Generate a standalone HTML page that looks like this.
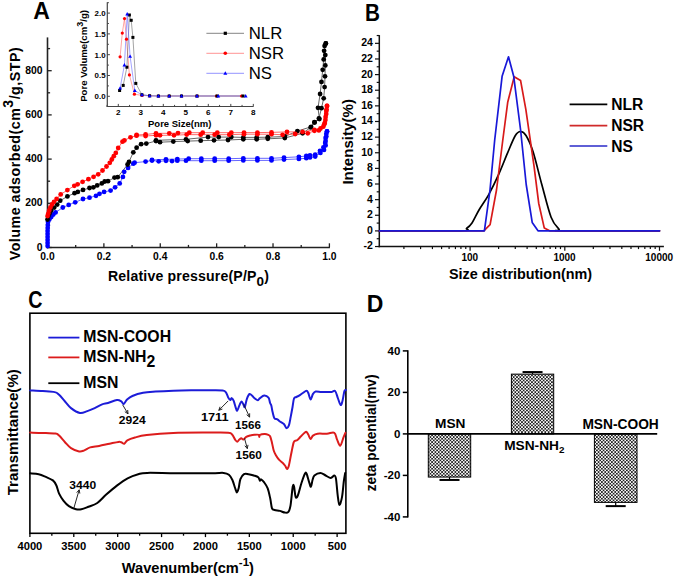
<!DOCTYPE html>
<html><head><meta charset="utf-8"><style>html,body{margin:0;padding:0;background:#fff;width:675px;height:578px;overflow:hidden}svg{display:block;font-family:"Liberation Sans",sans-serif}</style></head><body>
<svg width="675" height="578" viewBox="0 0 675 578" font-family="Liberation Sans, sans-serif">
<rect width="675" height="578" fill="#fff"/>
<text x="33.20" y="18.80" font-size="23" font-weight="bold" text-anchor="start" fill="#000" >A</text>
<line x1="47.50" y1="37.40" x2="47.50" y2="248.30" stroke="#222" stroke-width="1.6" />
<line x1="46.70" y1="247.50" x2="329.90" y2="247.50" stroke="#222" stroke-width="1.6" />
<line x1="47.50" y1="247.50" x2="47.50" y2="243.30" stroke="#222" stroke-width="1.3" />
<text x="47.50" y="259.90" font-size="10.3" font-weight="bold" text-anchor="middle" fill="#000" >0.0</text>
<line x1="75.69" y1="247.50" x2="75.69" y2="244.90" stroke="#222" stroke-width="1.3" />
<line x1="103.88" y1="247.50" x2="103.88" y2="243.30" stroke="#222" stroke-width="1.3" />
<text x="103.88" y="259.90" font-size="10.3" font-weight="bold" text-anchor="middle" fill="#000" >0.2</text>
<line x1="132.07" y1="247.50" x2="132.07" y2="244.90" stroke="#222" stroke-width="1.3" />
<line x1="160.26" y1="247.50" x2="160.26" y2="243.30" stroke="#222" stroke-width="1.3" />
<text x="160.26" y="259.90" font-size="10.3" font-weight="bold" text-anchor="middle" fill="#000" >0.4</text>
<line x1="188.45" y1="247.50" x2="188.45" y2="244.90" stroke="#222" stroke-width="1.3" />
<line x1="216.64" y1="247.50" x2="216.64" y2="243.30" stroke="#222" stroke-width="1.3" />
<text x="216.64" y="259.90" font-size="10.3" font-weight="bold" text-anchor="middle" fill="#000" >0.6</text>
<line x1="244.83" y1="247.50" x2="244.83" y2="244.90" stroke="#222" stroke-width="1.3" />
<line x1="273.02" y1="247.50" x2="273.02" y2="243.30" stroke="#222" stroke-width="1.3" />
<text x="273.02" y="259.90" font-size="10.3" font-weight="bold" text-anchor="middle" fill="#000" >0.8</text>
<line x1="301.21" y1="247.50" x2="301.21" y2="244.90" stroke="#222" stroke-width="1.3" />
<line x1="329.40" y1="247.50" x2="329.40" y2="243.30" stroke="#222" stroke-width="1.3" />
<text x="329.40" y="259.90" font-size="10.3" font-weight="bold" text-anchor="middle" fill="#000" >1.0</text>
<line x1="47.50" y1="247.50" x2="51.70" y2="247.50" stroke="#222" stroke-width="1.3" />
<text x="42.60" y="250.60" font-size="10.4" font-weight="bold" text-anchor="end" fill="#000" >0</text>
<line x1="47.50" y1="225.40" x2="50.10" y2="225.40" stroke="#222" stroke-width="1.3" />
<line x1="47.50" y1="203.30" x2="51.70" y2="203.30" stroke="#222" stroke-width="1.3" />
<text x="42.60" y="206.40" font-size="10.4" font-weight="bold" text-anchor="end" fill="#000" >200</text>
<line x1="47.50" y1="181.20" x2="50.10" y2="181.20" stroke="#222" stroke-width="1.3" />
<line x1="47.50" y1="159.10" x2="51.70" y2="159.10" stroke="#222" stroke-width="1.3" />
<text x="42.60" y="162.20" font-size="10.4" font-weight="bold" text-anchor="end" fill="#000" >400</text>
<line x1="47.50" y1="137.00" x2="50.10" y2="137.00" stroke="#222" stroke-width="1.3" />
<line x1="47.50" y1="114.90" x2="51.70" y2="114.90" stroke="#222" stroke-width="1.3" />
<text x="42.60" y="118.00" font-size="10.4" font-weight="bold" text-anchor="end" fill="#000" >600</text>
<line x1="47.50" y1="92.80" x2="50.10" y2="92.80" stroke="#222" stroke-width="1.3" />
<line x1="47.50" y1="70.70" x2="51.70" y2="70.70" stroke="#222" stroke-width="1.3" />
<text x="42.60" y="73.80" font-size="10.4" font-weight="bold" text-anchor="end" fill="#000" >800</text>
<line x1="47.50" y1="48.60" x2="50.10" y2="48.60" stroke="#222" stroke-width="1.3" />
<text x="108" y="281.3" font-size="14.1" font-weight="bold" textLength="161" lengthAdjust="spacing">Relative pressure(P/P<tspan font-size="13.5" dy="4.3">0</tspan><tspan dy="-4.3">)</tspan></text>
<text transform="translate(20.4,260.3) rotate(-90)" font-size="14.3" font-weight="bold" textLength="213" lengthAdjust="spacing">Volume adsorbed(cm<tspan font-size="14" dy="-7.6">3</tspan><tspan dy="7.6">/g,STP)</tspan></text>
<polyline points="47.60,246.00 47.60,243.00 47.60,240.00 47.60,237.00 47.60,234.00 47.60,231.00 47.70,228.00 47.80,225.00 48.00,222.00 49.30,219.50 51.20,217.00 53.30,214.50 55.60,212.40 62.80,207.50 68.70,204.90 75.20,202.30 83.00,199.00 89.50,197.70 96.00,195.80 99.50,193.80 104.10,191.90 110.60,190.60 115.10,187.30 119.70,183.40 122.90,176.90 124.20,171.80 128.10,167.90 133.30,163.70 134.60,162.70 145.60,161.60 152.00,160.50 158.70,161.30 166.00,160.80 172.00,161.10 177.30,160.70 186.00,160.70 201.30,160.70 214.70,160.70 228.70,160.70 243.30,160.40 257.40,160.40 271.50,160.40 284.00,159.60 298.90,158.90 306.30,158.20 310.00,157.40 315.20,156.60 320.40,152.90 324.00,149.90 325.60,145.40 325.60,141.00 326.30,136.60 327.00,131.40" fill="none" stroke="#5555ff" stroke-width="0.9" stroke-linejoin="round" stroke-linecap="round" />
<polyline points="327.00,131.40 326.30,134.00 325.60,138.00 325.20,143.00 323.40,147.50 320.00,150.80 315.20,154.60 310.00,155.30 306.30,156.00 298.90,156.80 284.00,157.60 271.50,158.30 257.40,158.30 243.30,158.30 228.70,158.70 214.70,158.70 201.30,158.70 188.70,158.70 177.30,159.10 166.00,159.30 152.00,160.00" fill="none" stroke="#5555ff" stroke-width="0.9" stroke-linejoin="round" stroke-linecap="round" />
<polyline points="47.50,219.50 48.20,216.50 49.50,213.50 51.20,210.50 54.20,207.60 57.20,204.60 60.20,200.70 67.40,196.40 74.50,193.20 77.80,191.90 83.00,189.90 89.50,188.00 93.40,187.30 97.20,185.40 101.80,183.40 104.70,181.50 108.00,181.20 114.50,177.60 117.70,177.20 127.60,164.50 129.00,161.80 133.30,152.30 136.60,147.70 141.10,144.20 146.30,143.60 156.00,141.00 160.00,142.20 173.30,141.60 187.70,141.10 200.70,140.70 214.00,140.30 228.00,140.00 243.30,139.30 256.70,139.30 267.80,138.80 284.80,138.00 302.60,133.30 310.70,127.40 314.40,122.20 319.40,119.00 318.00,107.80 320.10,94.00 321.50,81.90 322.70,69.80 323.70,59.40 324.10,50.80 325.80,43.50" fill="none" stroke="#555" stroke-width="0.9" stroke-linejoin="round" stroke-linecap="round" />
<polyline points="325.80,43.50 324.60,45.90 325.30,55.10 325.30,65.40 325.00,76.30 324.60,87.10 323.70,98.30 321.50,108.20 318.90,118.50 314.60,122.50 311.10,126.80 297.40,131.10 284.80,136.50 267.80,137.20 256.70,137.40 243.30,137.40 231.30,137.10 218.70,137.10 208.00,137.10 186.00,139.30 156.00,140.30" fill="none" stroke="#555" stroke-width="0.9" stroke-linejoin="round" stroke-linecap="round" />
<polyline points="47.60,216.00 48.30,213.50 49.20,210.50 50.40,207.50 52.00,204.50 54.00,201.80 56.60,199.00 60.70,194.40 67.40,190.10 74.30,185.80 77.60,184.30 82.60,181.80 88.40,179.20 93.60,176.80 98.20,174.30 102.50,170.50 106.50,166.50 109.80,162.80 111.80,159.50 113.80,156.20 115.80,152.90 118.20,148.00 122.50,141.70 124.40,140.40 130.50,137.30 136.50,135.70 145.60,136.00 156.00,135.30 160.00,135.30 174.00,135.30 186.70,134.60 200.70,134.70 214.70,134.70 229.30,134.70 244.00,134.20 257.40,134.20 271.50,134.20 282.60,134.80 295.20,134.00 307.80,133.30 314.40,130.80 318.90,130.40 323.30,126.70 324.80,123.00 325.60,117.00 326.30,111.00 327.00,106.00" fill="none" stroke="#ff5555" stroke-width="0.9" stroke-linejoin="round" stroke-linecap="round" />
<polyline points="327.00,106.00 326.60,109.50 326.20,114.00 325.40,120.00 324.20,124.50 320.50,128.50 314.50,129.80 302.60,131.90 287.00,131.90 271.50,132.40 257.40,132.60 244.00,132.60 231.30,132.70 217.30,132.70 202.70,132.70 189.30,132.70 178.00,133.10 169.30,133.30 156.00,133.30 145.60,134.50 136.60,135.00" fill="none" stroke="#ff5555" stroke-width="0.9" stroke-linejoin="round" stroke-linecap="round" />
<circle cx="47.60" cy="246.00" r="2.4" fill="#0000ff"/>
<circle cx="47.60" cy="243.00" r="2.4" fill="#0000ff"/>
<circle cx="47.60" cy="240.00" r="2.4" fill="#0000ff"/>
<circle cx="47.60" cy="237.00" r="2.4" fill="#0000ff"/>
<circle cx="47.60" cy="234.00" r="2.4" fill="#0000ff"/>
<circle cx="47.60" cy="231.00" r="2.4" fill="#0000ff"/>
<circle cx="47.70" cy="228.00" r="2.4" fill="#0000ff"/>
<circle cx="47.80" cy="225.00" r="2.4" fill="#0000ff"/>
<circle cx="48.00" cy="222.00" r="2.4" fill="#0000ff"/>
<circle cx="49.30" cy="219.50" r="2.4" fill="#0000ff"/>
<circle cx="51.20" cy="217.00" r="2.4" fill="#0000ff"/>
<circle cx="53.30" cy="214.50" r="2.4" fill="#0000ff"/>
<circle cx="55.60" cy="212.40" r="2.4" fill="#0000ff"/>
<circle cx="62.80" cy="207.50" r="2.4" fill="#0000ff"/>
<circle cx="68.70" cy="204.90" r="2.4" fill="#0000ff"/>
<circle cx="75.20" cy="202.30" r="2.4" fill="#0000ff"/>
<circle cx="83.00" cy="199.00" r="2.4" fill="#0000ff"/>
<circle cx="89.50" cy="197.70" r="2.4" fill="#0000ff"/>
<circle cx="96.00" cy="195.80" r="2.4" fill="#0000ff"/>
<circle cx="99.50" cy="193.80" r="2.4" fill="#0000ff"/>
<circle cx="104.10" cy="191.90" r="2.4" fill="#0000ff"/>
<circle cx="110.60" cy="190.60" r="2.4" fill="#0000ff"/>
<circle cx="115.10" cy="187.30" r="2.4" fill="#0000ff"/>
<circle cx="119.70" cy="183.40" r="2.4" fill="#0000ff"/>
<circle cx="122.90" cy="176.90" r="2.4" fill="#0000ff"/>
<circle cx="124.20" cy="171.80" r="2.4" fill="#0000ff"/>
<circle cx="128.10" cy="167.90" r="2.4" fill="#0000ff"/>
<circle cx="133.30" cy="163.70" r="2.4" fill="#0000ff"/>
<circle cx="134.60" cy="162.70" r="2.4" fill="#0000ff"/>
<circle cx="145.60" cy="161.60" r="2.4" fill="#0000ff"/>
<circle cx="152.00" cy="160.50" r="2.4" fill="#0000ff"/>
<circle cx="158.70" cy="161.30" r="2.4" fill="#0000ff"/>
<circle cx="166.00" cy="160.80" r="2.4" fill="#0000ff"/>
<circle cx="172.00" cy="161.10" r="2.4" fill="#0000ff"/>
<circle cx="177.30" cy="160.70" r="2.4" fill="#0000ff"/>
<circle cx="186.00" cy="160.70" r="2.4" fill="#0000ff"/>
<circle cx="201.30" cy="160.70" r="2.4" fill="#0000ff"/>
<circle cx="214.70" cy="160.70" r="2.4" fill="#0000ff"/>
<circle cx="228.70" cy="160.70" r="2.4" fill="#0000ff"/>
<circle cx="243.30" cy="160.40" r="2.4" fill="#0000ff"/>
<circle cx="257.40" cy="160.40" r="2.4" fill="#0000ff"/>
<circle cx="271.50" cy="160.40" r="2.4" fill="#0000ff"/>
<circle cx="284.00" cy="159.60" r="2.4" fill="#0000ff"/>
<circle cx="298.90" cy="158.90" r="2.4" fill="#0000ff"/>
<circle cx="306.30" cy="158.20" r="2.4" fill="#0000ff"/>
<circle cx="310.00" cy="157.40" r="2.4" fill="#0000ff"/>
<circle cx="315.20" cy="156.60" r="2.4" fill="#0000ff"/>
<circle cx="320.40" cy="152.90" r="2.4" fill="#0000ff"/>
<circle cx="324.00" cy="149.90" r="2.4" fill="#0000ff"/>
<circle cx="325.60" cy="145.40" r="2.4" fill="#0000ff"/>
<circle cx="325.60" cy="141.00" r="2.4" fill="#0000ff"/>
<circle cx="326.30" cy="136.60" r="2.4" fill="#0000ff"/>
<circle cx="327.00" cy="131.40" r="2.4" fill="#0000ff"/>
<circle cx="327.00" cy="131.40" r="2.4" fill="#0000ff"/>
<circle cx="326.30" cy="134.00" r="2.4" fill="#0000ff"/>
<circle cx="325.60" cy="138.00" r="2.4" fill="#0000ff"/>
<circle cx="325.20" cy="143.00" r="2.4" fill="#0000ff"/>
<circle cx="323.40" cy="147.50" r="2.4" fill="#0000ff"/>
<circle cx="320.00" cy="150.80" r="2.4" fill="#0000ff"/>
<circle cx="315.20" cy="154.60" r="2.4" fill="#0000ff"/>
<circle cx="310.00" cy="155.30" r="2.4" fill="#0000ff"/>
<circle cx="306.30" cy="156.00" r="2.4" fill="#0000ff"/>
<circle cx="298.90" cy="156.80" r="2.4" fill="#0000ff"/>
<circle cx="284.00" cy="157.60" r="2.4" fill="#0000ff"/>
<circle cx="271.50" cy="158.30" r="2.4" fill="#0000ff"/>
<circle cx="257.40" cy="158.30" r="2.4" fill="#0000ff"/>
<circle cx="243.30" cy="158.30" r="2.4" fill="#0000ff"/>
<circle cx="228.70" cy="158.70" r="2.4" fill="#0000ff"/>
<circle cx="214.70" cy="158.70" r="2.4" fill="#0000ff"/>
<circle cx="201.30" cy="158.70" r="2.4" fill="#0000ff"/>
<circle cx="188.70" cy="158.70" r="2.4" fill="#0000ff"/>
<circle cx="177.30" cy="159.10" r="2.4" fill="#0000ff"/>
<circle cx="166.00" cy="159.30" r="2.4" fill="#0000ff"/>
<circle cx="152.00" cy="160.00" r="2.4" fill="#0000ff"/>
<circle cx="47.50" cy="219.50" r="2.4" fill="#000000"/>
<circle cx="48.20" cy="216.50" r="2.4" fill="#000000"/>
<circle cx="49.50" cy="213.50" r="2.4" fill="#000000"/>
<circle cx="51.20" cy="210.50" r="2.4" fill="#000000"/>
<circle cx="54.20" cy="207.60" r="2.4" fill="#000000"/>
<circle cx="57.20" cy="204.60" r="2.4" fill="#000000"/>
<circle cx="60.20" cy="200.70" r="2.4" fill="#000000"/>
<circle cx="67.40" cy="196.40" r="2.4" fill="#000000"/>
<circle cx="74.50" cy="193.20" r="2.4" fill="#000000"/>
<circle cx="77.80" cy="191.90" r="2.4" fill="#000000"/>
<circle cx="83.00" cy="189.90" r="2.4" fill="#000000"/>
<circle cx="89.50" cy="188.00" r="2.4" fill="#000000"/>
<circle cx="93.40" cy="187.30" r="2.4" fill="#000000"/>
<circle cx="97.20" cy="185.40" r="2.4" fill="#000000"/>
<circle cx="101.80" cy="183.40" r="2.4" fill="#000000"/>
<circle cx="104.70" cy="181.50" r="2.4" fill="#000000"/>
<circle cx="108.00" cy="181.20" r="2.4" fill="#000000"/>
<circle cx="114.50" cy="177.60" r="2.4" fill="#000000"/>
<circle cx="117.70" cy="177.20" r="2.4" fill="#000000"/>
<circle cx="127.60" cy="164.50" r="2.4" fill="#000000"/>
<circle cx="129.00" cy="161.80" r="2.4" fill="#000000"/>
<circle cx="133.30" cy="152.30" r="2.4" fill="#000000"/>
<circle cx="136.60" cy="147.70" r="2.4" fill="#000000"/>
<circle cx="141.10" cy="144.20" r="2.4" fill="#000000"/>
<circle cx="146.30" cy="143.60" r="2.4" fill="#000000"/>
<circle cx="156.00" cy="141.00" r="2.4" fill="#000000"/>
<circle cx="160.00" cy="142.20" r="2.4" fill="#000000"/>
<circle cx="173.30" cy="141.60" r="2.4" fill="#000000"/>
<circle cx="187.70" cy="141.10" r="2.4" fill="#000000"/>
<circle cx="200.70" cy="140.70" r="2.4" fill="#000000"/>
<circle cx="214.00" cy="140.30" r="2.4" fill="#000000"/>
<circle cx="228.00" cy="140.00" r="2.4" fill="#000000"/>
<circle cx="243.30" cy="139.30" r="2.4" fill="#000000"/>
<circle cx="256.70" cy="139.30" r="2.4" fill="#000000"/>
<circle cx="267.80" cy="138.80" r="2.4" fill="#000000"/>
<circle cx="284.80" cy="138.00" r="2.4" fill="#000000"/>
<circle cx="302.60" cy="133.30" r="2.4" fill="#000000"/>
<circle cx="310.70" cy="127.40" r="2.4" fill="#000000"/>
<circle cx="314.40" cy="122.20" r="2.4" fill="#000000"/>
<circle cx="319.40" cy="119.00" r="2.4" fill="#000000"/>
<circle cx="318.00" cy="107.80" r="2.4" fill="#000000"/>
<circle cx="320.10" cy="94.00" r="2.4" fill="#000000"/>
<circle cx="321.50" cy="81.90" r="2.4" fill="#000000"/>
<circle cx="322.70" cy="69.80" r="2.4" fill="#000000"/>
<circle cx="323.70" cy="59.40" r="2.4" fill="#000000"/>
<circle cx="324.10" cy="50.80" r="2.4" fill="#000000"/>
<circle cx="325.80" cy="43.50" r="2.4" fill="#000000"/>
<circle cx="325.80" cy="43.50" r="2.4" fill="#000000"/>
<circle cx="324.60" cy="45.90" r="2.4" fill="#000000"/>
<circle cx="325.30" cy="55.10" r="2.4" fill="#000000"/>
<circle cx="325.30" cy="65.40" r="2.4" fill="#000000"/>
<circle cx="325.00" cy="76.30" r="2.4" fill="#000000"/>
<circle cx="324.60" cy="87.10" r="2.4" fill="#000000"/>
<circle cx="323.70" cy="98.30" r="2.4" fill="#000000"/>
<circle cx="321.50" cy="108.20" r="2.4" fill="#000000"/>
<circle cx="318.90" cy="118.50" r="2.4" fill="#000000"/>
<circle cx="314.60" cy="122.50" r="2.4" fill="#000000"/>
<circle cx="311.10" cy="126.80" r="2.4" fill="#000000"/>
<circle cx="297.40" cy="131.10" r="2.4" fill="#000000"/>
<circle cx="284.80" cy="136.50" r="2.4" fill="#000000"/>
<circle cx="267.80" cy="137.20" r="2.4" fill="#000000"/>
<circle cx="256.70" cy="137.40" r="2.4" fill="#000000"/>
<circle cx="243.30" cy="137.40" r="2.4" fill="#000000"/>
<circle cx="231.30" cy="137.10" r="2.4" fill="#000000"/>
<circle cx="218.70" cy="137.10" r="2.4" fill="#000000"/>
<circle cx="208.00" cy="137.10" r="2.4" fill="#000000"/>
<circle cx="186.00" cy="139.30" r="2.4" fill="#000000"/>
<circle cx="156.00" cy="140.30" r="2.4" fill="#000000"/>
<circle cx="47.60" cy="216.00" r="2.4" fill="#ff0000"/>
<circle cx="48.30" cy="213.50" r="2.4" fill="#ff0000"/>
<circle cx="49.20" cy="210.50" r="2.4" fill="#ff0000"/>
<circle cx="50.40" cy="207.50" r="2.4" fill="#ff0000"/>
<circle cx="52.00" cy="204.50" r="2.4" fill="#ff0000"/>
<circle cx="54.00" cy="201.80" r="2.4" fill="#ff0000"/>
<circle cx="56.60" cy="199.00" r="2.4" fill="#ff0000"/>
<circle cx="60.70" cy="194.40" r="2.4" fill="#ff0000"/>
<circle cx="67.40" cy="190.10" r="2.4" fill="#ff0000"/>
<circle cx="74.30" cy="185.80" r="2.4" fill="#ff0000"/>
<circle cx="77.60" cy="184.30" r="2.4" fill="#ff0000"/>
<circle cx="82.60" cy="181.80" r="2.4" fill="#ff0000"/>
<circle cx="88.40" cy="179.20" r="2.4" fill="#ff0000"/>
<circle cx="93.60" cy="176.80" r="2.4" fill="#ff0000"/>
<circle cx="98.20" cy="174.30" r="2.4" fill="#ff0000"/>
<circle cx="102.50" cy="170.50" r="2.4" fill="#ff0000"/>
<circle cx="106.50" cy="166.50" r="2.4" fill="#ff0000"/>
<circle cx="109.80" cy="162.80" r="2.4" fill="#ff0000"/>
<circle cx="111.80" cy="159.50" r="2.4" fill="#ff0000"/>
<circle cx="113.80" cy="156.20" r="2.4" fill="#ff0000"/>
<circle cx="115.80" cy="152.90" r="2.4" fill="#ff0000"/>
<circle cx="118.20" cy="148.00" r="2.4" fill="#ff0000"/>
<circle cx="122.50" cy="141.70" r="2.4" fill="#ff0000"/>
<circle cx="124.40" cy="140.40" r="2.4" fill="#ff0000"/>
<circle cx="130.50" cy="137.30" r="2.4" fill="#ff0000"/>
<circle cx="136.50" cy="135.70" r="2.4" fill="#ff0000"/>
<circle cx="145.60" cy="136.00" r="2.4" fill="#ff0000"/>
<circle cx="156.00" cy="135.30" r="2.4" fill="#ff0000"/>
<circle cx="160.00" cy="135.30" r="2.4" fill="#ff0000"/>
<circle cx="174.00" cy="135.30" r="2.4" fill="#ff0000"/>
<circle cx="186.70" cy="134.60" r="2.4" fill="#ff0000"/>
<circle cx="200.70" cy="134.70" r="2.4" fill="#ff0000"/>
<circle cx="214.70" cy="134.70" r="2.4" fill="#ff0000"/>
<circle cx="229.30" cy="134.70" r="2.4" fill="#ff0000"/>
<circle cx="244.00" cy="134.20" r="2.4" fill="#ff0000"/>
<circle cx="257.40" cy="134.20" r="2.4" fill="#ff0000"/>
<circle cx="271.50" cy="134.20" r="2.4" fill="#ff0000"/>
<circle cx="282.60" cy="134.80" r="2.4" fill="#ff0000"/>
<circle cx="295.20" cy="134.00" r="2.4" fill="#ff0000"/>
<circle cx="307.80" cy="133.30" r="2.4" fill="#ff0000"/>
<circle cx="314.40" cy="130.80" r="2.4" fill="#ff0000"/>
<circle cx="318.90" cy="130.40" r="2.4" fill="#ff0000"/>
<circle cx="323.30" cy="126.70" r="2.4" fill="#ff0000"/>
<circle cx="324.80" cy="123.00" r="2.4" fill="#ff0000"/>
<circle cx="325.60" cy="117.00" r="2.4" fill="#ff0000"/>
<circle cx="326.30" cy="111.00" r="2.4" fill="#ff0000"/>
<circle cx="327.00" cy="106.00" r="2.4" fill="#ff0000"/>
<circle cx="327.00" cy="106.00" r="2.4" fill="#ff0000"/>
<circle cx="326.60" cy="109.50" r="2.4" fill="#ff0000"/>
<circle cx="326.20" cy="114.00" r="2.4" fill="#ff0000"/>
<circle cx="325.40" cy="120.00" r="2.4" fill="#ff0000"/>
<circle cx="324.20" cy="124.50" r="2.4" fill="#ff0000"/>
<circle cx="320.50" cy="128.50" r="2.4" fill="#ff0000"/>
<circle cx="314.50" cy="129.80" r="2.4" fill="#ff0000"/>
<circle cx="302.60" cy="131.90" r="2.4" fill="#ff0000"/>
<circle cx="287.00" cy="131.90" r="2.4" fill="#ff0000"/>
<circle cx="271.50" cy="132.40" r="2.4" fill="#ff0000"/>
<circle cx="257.40" cy="132.60" r="2.4" fill="#ff0000"/>
<circle cx="244.00" cy="132.60" r="2.4" fill="#ff0000"/>
<circle cx="231.30" cy="132.70" r="2.4" fill="#ff0000"/>
<circle cx="217.30" cy="132.70" r="2.4" fill="#ff0000"/>
<circle cx="202.70" cy="132.70" r="2.4" fill="#ff0000"/>
<circle cx="189.30" cy="132.70" r="2.4" fill="#ff0000"/>
<circle cx="178.00" cy="133.10" r="2.4" fill="#ff0000"/>
<circle cx="169.30" cy="133.30" r="2.4" fill="#ff0000"/>
<circle cx="156.00" cy="133.30" r="2.4" fill="#ff0000"/>
<circle cx="145.60" cy="134.50" r="2.4" fill="#ff0000"/>
<circle cx="136.60" cy="135.00" r="2.4" fill="#ff0000"/>
<line x1="107.30" y1="2.20" x2="107.30" y2="107.10" stroke="#444" stroke-width="1.2" />
<line x1="106.70" y1="106.50" x2="253.50" y2="106.50" stroke="#444" stroke-width="1.2" />
<line x1="107.05" y1="106.50" x2="107.05" y2="104.90" stroke="#444" stroke-width="1.0" />
<line x1="118.30" y1="106.50" x2="118.30" y2="103.90" stroke="#444" stroke-width="1.0" />
<text x="118.30" y="115.00" font-size="8.1" font-weight="bold" text-anchor="middle" fill="#000" >2</text>
<line x1="129.55" y1="106.50" x2="129.55" y2="104.90" stroke="#444" stroke-width="1.0" />
<line x1="140.80" y1="106.50" x2="140.80" y2="103.90" stroke="#444" stroke-width="1.0" />
<text x="140.80" y="115.00" font-size="8.1" font-weight="bold" text-anchor="middle" fill="#000" >3</text>
<line x1="152.05" y1="106.50" x2="152.05" y2="104.90" stroke="#444" stroke-width="1.0" />
<line x1="163.30" y1="106.50" x2="163.30" y2="103.90" stroke="#444" stroke-width="1.0" />
<text x="163.30" y="115.00" font-size="8.1" font-weight="bold" text-anchor="middle" fill="#000" >4</text>
<line x1="174.55" y1="106.50" x2="174.55" y2="104.90" stroke="#444" stroke-width="1.0" />
<line x1="185.80" y1="106.50" x2="185.80" y2="103.90" stroke="#444" stroke-width="1.0" />
<text x="185.80" y="115.00" font-size="8.1" font-weight="bold" text-anchor="middle" fill="#000" >5</text>
<line x1="197.05" y1="106.50" x2="197.05" y2="104.90" stroke="#444" stroke-width="1.0" />
<line x1="208.30" y1="106.50" x2="208.30" y2="103.90" stroke="#444" stroke-width="1.0" />
<text x="208.30" y="115.00" font-size="8.1" font-weight="bold" text-anchor="middle" fill="#000" >6</text>
<line x1="219.55" y1="106.50" x2="219.55" y2="104.90" stroke="#444" stroke-width="1.0" />
<line x1="230.80" y1="106.50" x2="230.80" y2="103.90" stroke="#444" stroke-width="1.0" />
<text x="230.80" y="115.00" font-size="8.1" font-weight="bold" text-anchor="middle" fill="#000" >7</text>
<line x1="242.05" y1="106.50" x2="242.05" y2="104.90" stroke="#444" stroke-width="1.0" />
<line x1="253.30" y1="106.50" x2="253.30" y2="103.90" stroke="#444" stroke-width="1.0" />
<text x="253.30" y="115.00" font-size="8.1" font-weight="bold" text-anchor="middle" fill="#000" >8</text>
<line x1="107.30" y1="96.30" x2="109.90" y2="96.30" stroke="#444" stroke-width="1.0" />
<text x="105.60" y="99.10" font-size="7.9" font-weight="bold" text-anchor="end" fill="#000" >0.0</text>
<line x1="107.30" y1="85.90" x2="108.90" y2="85.90" stroke="#444" stroke-width="1.0" />
<line x1="107.30" y1="75.50" x2="109.90" y2="75.50" stroke="#444" stroke-width="1.0" />
<text x="105.60" y="78.30" font-size="7.9" font-weight="bold" text-anchor="end" fill="#000" >0.5</text>
<line x1="107.30" y1="65.10" x2="108.90" y2="65.10" stroke="#444" stroke-width="1.0" />
<line x1="107.30" y1="54.70" x2="109.90" y2="54.70" stroke="#444" stroke-width="1.0" />
<text x="105.60" y="57.50" font-size="7.9" font-weight="bold" text-anchor="end" fill="#000" >1.0</text>
<line x1="107.30" y1="44.30" x2="108.90" y2="44.30" stroke="#444" stroke-width="1.0" />
<line x1="107.30" y1="33.90" x2="109.90" y2="33.90" stroke="#444" stroke-width="1.0" />
<text x="105.60" y="36.70" font-size="7.9" font-weight="bold" text-anchor="end" fill="#000" >1.5</text>
<line x1="107.30" y1="23.50" x2="108.90" y2="23.50" stroke="#444" stroke-width="1.0" />
<line x1="107.30" y1="13.10" x2="109.90" y2="13.10" stroke="#444" stroke-width="1.0" />
<text x="105.60" y="15.90" font-size="7.9" font-weight="bold" text-anchor="end" fill="#000" >2.0</text>
<line x1="107.30" y1="2.70" x2="108.90" y2="2.70" stroke="#444" stroke-width="1.0" />
<text x="148.00" y="127.00" font-size="9.5" font-weight="bold" text-anchor="start" fill="#000" >Pore Size(nm)</text>
<text transform="translate(87.4,101.8) rotate(-90)" font-size="9.6" font-weight="bold">Pore Volume(cm<tspan font-size="9" dy="-4.6">3</tspan><tspan dy="4.6">/g)</tspan></text>
<polyline points="120.10,56.80 122.30,33.10 124.50,18.60 126.50,39.20 129.40,74.90 134.40,94.20 142.00,95.40 149.60,95.80 158.40,96.00 169.20,96.00 181.50,96.00 197.00,96.00 216.50,96.00 241.50,96.00" fill="none" stroke="#ff6666" stroke-width="0.6" stroke-linejoin="round" stroke-linecap="round" />
<polyline points="119.60,90.50 123.20,85.40 126.90,67.20 129.40,15.00 131.20,20.30 132.90,37.40 135.80,83.40 141.90,94.70 149.60,95.80 158.40,96.00 169.20,96.00 181.50,96.00 197.00,96.00 217.00,96.00 243.00,96.00" fill="none" stroke="#666" stroke-width="0.6" stroke-linejoin="round" stroke-linecap="round" />
<polyline points="120.10,88.20 124.40,65.10 127.20,14.00 130.10,56.40 134.80,90.60 142.00,94.80 149.60,95.80 158.40,96.00 169.20,96.00 181.50,96.00 197.00,96.00 218.30,96.00 245.70,96.00" fill="none" stroke="#6666ff" stroke-width="0.6" stroke-linejoin="round" stroke-linecap="round" />
<circle cx="120.10" cy="56.80" r="1.6" fill="#ff0000"/>
<circle cx="122.30" cy="33.10" r="1.6" fill="#ff0000"/>
<circle cx="124.50" cy="18.60" r="1.6" fill="#ff0000"/>
<circle cx="126.50" cy="39.20" r="1.6" fill="#ff0000"/>
<circle cx="129.40" cy="74.90" r="1.6" fill="#ff0000"/>
<circle cx="134.40" cy="94.20" r="1.6" fill="#ff0000"/>
<circle cx="142.00" cy="95.40" r="1.6" fill="#ff0000"/>
<circle cx="149.60" cy="95.80" r="1.6" fill="#ff0000"/>
<circle cx="158.40" cy="96.00" r="1.6" fill="#ff0000"/>
<circle cx="169.20" cy="96.00" r="1.6" fill="#ff0000"/>
<circle cx="181.50" cy="96.00" r="1.6" fill="#ff0000"/>
<circle cx="197.00" cy="96.00" r="1.6" fill="#ff0000"/>
<circle cx="216.50" cy="96.00" r="1.6" fill="#ff0000"/>
<circle cx="241.50" cy="96.00" r="1.6" fill="#ff0000"/>
<rect x="118.10" y="89.00" width="3" height="3" fill="#000"/>
<rect x="121.70" y="83.90" width="3" height="3" fill="#000"/>
<rect x="125.40" y="65.70" width="3" height="3" fill="#000"/>
<rect x="127.90" y="13.50" width="3" height="3" fill="#000"/>
<rect x="129.70" y="18.80" width="3" height="3" fill="#000"/>
<rect x="131.40" y="35.90" width="3" height="3" fill="#000"/>
<rect x="134.30" y="81.90" width="3" height="3" fill="#000"/>
<rect x="140.40" y="93.20" width="3" height="3" fill="#000"/>
<rect x="148.10" y="94.30" width="3" height="3" fill="#000"/>
<rect x="156.90" y="94.50" width="3" height="3" fill="#000"/>
<rect x="167.70" y="94.50" width="3" height="3" fill="#000"/>
<rect x="180.00" y="94.50" width="3" height="3" fill="#000"/>
<rect x="195.50" y="94.50" width="3" height="3" fill="#000"/>
<rect x="215.50" y="94.50" width="3" height="3" fill="#000"/>
<rect x="241.50" y="94.50" width="3" height="3" fill="#000"/>
<path d="M120.10,86.20 L122.00,89.60 L118.20,89.60Z" fill="#0000ff"/>
<path d="M124.40,63.10 L126.30,66.50 L122.50,66.50Z" fill="#0000ff"/>
<path d="M127.20,12.00 L129.10,15.40 L125.30,15.40Z" fill="#0000ff"/>
<path d="M130.10,54.40 L132.00,57.80 L128.20,57.80Z" fill="#0000ff"/>
<path d="M134.80,88.60 L136.70,92.00 L132.90,92.00Z" fill="#0000ff"/>
<path d="M142.00,92.80 L143.90,96.20 L140.10,96.20Z" fill="#0000ff"/>
<path d="M149.60,93.80 L151.50,97.20 L147.70,97.20Z" fill="#0000ff"/>
<path d="M158.40,94.00 L160.30,97.40 L156.50,97.40Z" fill="#0000ff"/>
<path d="M169.20,94.00 L171.10,97.40 L167.30,97.40Z" fill="#0000ff"/>
<path d="M181.50,94.00 L183.40,97.40 L179.60,97.40Z" fill="#0000ff"/>
<path d="M197.00,94.00 L198.90,97.40 L195.10,97.40Z" fill="#0000ff"/>
<path d="M218.30,94.00 L220.20,97.40 L216.40,97.40Z" fill="#0000ff"/>
<path d="M245.70,94.00 L247.60,97.40 L243.80,97.40Z" fill="#0000ff"/>
<line x1="206.40" y1="33.30" x2="244.00" y2="33.30" stroke="#666" stroke-width="0.8" />
<rect x="223.70" y="31.70" width="3.2" height="3.2" fill="#000"/>
<text transform="translate(248.70,38.90) scale(1.075,1.0)" font-size="15.6" font-weight="normal" text-anchor="start" fill="#000" >NLR</text>
<line x1="206.40" y1="53.30" x2="244.00" y2="53.30" stroke="#ff7777" stroke-width="0.8" />
<circle cx="225.3" cy="53.30" r="1.8" fill="#ff0000"/>
<text transform="translate(248.70,58.90) scale(1.075,1.0)" font-size="15.6" font-weight="normal" text-anchor="start" fill="#000" >NSR</text>
<line x1="206.40" y1="73.30" x2="244.00" y2="73.30" stroke="#7777ff" stroke-width="0.8" />
<path d="M225.3,71.20 L227.3,74.70 L223.3,74.70Z" fill="#0000ff"/>
<text transform="translate(248.70,78.90) scale(1.075,1.0)" font-size="15.6" font-weight="normal" text-anchor="start" fill="#000" >NS</text>
<text transform="translate(365.00,21.00) scale(0.9,1.0)" font-size="23" font-weight="bold" text-anchor="start" fill="#000" >B</text>
<line x1="379.30" y1="35.10" x2="379.30" y2="247.25" stroke="#111" stroke-width="1.5" />
<line x1="378.55" y1="246.50" x2="663.90" y2="246.50" stroke="#111" stroke-width="1.5" />
<line x1="379.30" y1="246.53" x2="375.00" y2="246.53" stroke="#111" stroke-width="1.2" />
<text x="372.90" y="249.43" font-size="10.5" font-weight="bold" text-anchor="end" fill="#000" >-2</text>
<line x1="379.30" y1="238.72" x2="376.70" y2="238.72" stroke="#111" stroke-width="1.2" />
<line x1="379.30" y1="230.90" x2="375.00" y2="230.90" stroke="#111" stroke-width="1.2" />
<text x="372.90" y="233.80" font-size="10.5" font-weight="bold" text-anchor="end" fill="#000" >0</text>
<line x1="379.30" y1="223.09" x2="376.70" y2="223.09" stroke="#111" stroke-width="1.2" />
<line x1="379.30" y1="215.27" x2="375.00" y2="215.27" stroke="#111" stroke-width="1.2" />
<text x="372.90" y="218.17" font-size="10.5" font-weight="bold" text-anchor="end" fill="#000" >2</text>
<line x1="379.30" y1="207.46" x2="376.70" y2="207.46" stroke="#111" stroke-width="1.2" />
<line x1="379.30" y1="199.64" x2="375.00" y2="199.64" stroke="#111" stroke-width="1.2" />
<text x="372.90" y="202.54" font-size="10.5" font-weight="bold" text-anchor="end" fill="#000" >4</text>
<line x1="379.30" y1="191.82" x2="376.70" y2="191.82" stroke="#111" stroke-width="1.2" />
<line x1="379.30" y1="184.01" x2="375.00" y2="184.01" stroke="#111" stroke-width="1.2" />
<text x="372.90" y="186.91" font-size="10.5" font-weight="bold" text-anchor="end" fill="#000" >6</text>
<line x1="379.30" y1="176.19" x2="376.70" y2="176.19" stroke="#111" stroke-width="1.2" />
<line x1="379.30" y1="168.38" x2="375.00" y2="168.38" stroke="#111" stroke-width="1.2" />
<text x="372.90" y="171.28" font-size="10.5" font-weight="bold" text-anchor="end" fill="#000" >8</text>
<line x1="379.30" y1="160.56" x2="376.70" y2="160.56" stroke="#111" stroke-width="1.2" />
<line x1="379.30" y1="152.75" x2="375.00" y2="152.75" stroke="#111" stroke-width="1.2" />
<text x="372.90" y="155.65" font-size="10.5" font-weight="bold" text-anchor="end" fill="#000" >10</text>
<line x1="379.30" y1="144.94" x2="376.70" y2="144.94" stroke="#111" stroke-width="1.2" />
<line x1="379.30" y1="137.12" x2="375.00" y2="137.12" stroke="#111" stroke-width="1.2" />
<text x="372.90" y="140.02" font-size="10.5" font-weight="bold" text-anchor="end" fill="#000" >12</text>
<line x1="379.30" y1="129.31" x2="376.70" y2="129.31" stroke="#111" stroke-width="1.2" />
<line x1="379.30" y1="121.49" x2="375.00" y2="121.49" stroke="#111" stroke-width="1.2" />
<text x="372.90" y="124.39" font-size="10.5" font-weight="bold" text-anchor="end" fill="#000" >14</text>
<line x1="379.30" y1="113.67" x2="376.70" y2="113.67" stroke="#111" stroke-width="1.2" />
<line x1="379.30" y1="105.86" x2="375.00" y2="105.86" stroke="#111" stroke-width="1.2" />
<text x="372.90" y="108.76" font-size="10.5" font-weight="bold" text-anchor="end" fill="#000" >16</text>
<line x1="379.30" y1="98.04" x2="376.70" y2="98.04" stroke="#111" stroke-width="1.2" />
<line x1="379.30" y1="90.23" x2="375.00" y2="90.23" stroke="#111" stroke-width="1.2" />
<text x="372.90" y="93.13" font-size="10.5" font-weight="bold" text-anchor="end" fill="#000" >18</text>
<line x1="379.30" y1="82.41" x2="376.70" y2="82.41" stroke="#111" stroke-width="1.2" />
<line x1="379.30" y1="74.60" x2="375.00" y2="74.60" stroke="#111" stroke-width="1.2" />
<text x="372.90" y="77.50" font-size="10.5" font-weight="bold" text-anchor="end" fill="#000" >20</text>
<line x1="379.30" y1="66.78" x2="376.70" y2="66.78" stroke="#111" stroke-width="1.2" />
<line x1="379.30" y1="58.97" x2="375.00" y2="58.97" stroke="#111" stroke-width="1.2" />
<text x="372.90" y="61.87" font-size="10.5" font-weight="bold" text-anchor="end" fill="#000" >22</text>
<line x1="379.30" y1="51.16" x2="376.70" y2="51.16" stroke="#111" stroke-width="1.2" />
<line x1="379.30" y1="43.34" x2="375.00" y2="43.34" stroke="#111" stroke-width="1.2" />
<text x="372.90" y="46.24" font-size="10.5" font-weight="bold" text-anchor="end" fill="#000" >24</text>
<line x1="379.30" y1="35.53" x2="376.70" y2="35.53" stroke="#111" stroke-width="1.2" />
<line x1="403.91" y1="246.50" x2="403.91" y2="249.10" stroke="#111" stroke-width="1.2" />
<line x1="420.58" y1="246.50" x2="420.58" y2="249.10" stroke="#111" stroke-width="1.2" />
<line x1="432.42" y1="246.50" x2="432.42" y2="249.10" stroke="#111" stroke-width="1.2" />
<line x1="441.59" y1="246.50" x2="441.59" y2="249.10" stroke="#111" stroke-width="1.2" />
<line x1="449.09" y1="246.50" x2="449.09" y2="249.10" stroke="#111" stroke-width="1.2" />
<line x1="455.43" y1="246.50" x2="455.43" y2="249.10" stroke="#111" stroke-width="1.2" />
<line x1="460.92" y1="246.50" x2="460.92" y2="249.10" stroke="#111" stroke-width="1.2" />
<line x1="465.77" y1="246.50" x2="465.77" y2="249.10" stroke="#111" stroke-width="1.2" />
<line x1="470.10" y1="246.50" x2="470.10" y2="250.80" stroke="#111" stroke-width="1.2" />
<line x1="498.61" y1="246.50" x2="498.61" y2="249.10" stroke="#111" stroke-width="1.2" />
<line x1="515.28" y1="246.50" x2="515.28" y2="249.10" stroke="#111" stroke-width="1.2" />
<line x1="527.12" y1="246.50" x2="527.12" y2="249.10" stroke="#111" stroke-width="1.2" />
<line x1="536.29" y1="246.50" x2="536.29" y2="249.10" stroke="#111" stroke-width="1.2" />
<line x1="543.79" y1="246.50" x2="543.79" y2="249.10" stroke="#111" stroke-width="1.2" />
<line x1="550.13" y1="246.50" x2="550.13" y2="249.10" stroke="#111" stroke-width="1.2" />
<line x1="555.62" y1="246.50" x2="555.62" y2="249.10" stroke="#111" stroke-width="1.2" />
<line x1="560.47" y1="246.50" x2="560.47" y2="249.10" stroke="#111" stroke-width="1.2" />
<line x1="564.80" y1="246.50" x2="564.80" y2="250.80" stroke="#111" stroke-width="1.2" />
<line x1="593.31" y1="246.50" x2="593.31" y2="249.10" stroke="#111" stroke-width="1.2" />
<line x1="609.98" y1="246.50" x2="609.98" y2="249.10" stroke="#111" stroke-width="1.2" />
<line x1="621.82" y1="246.50" x2="621.82" y2="249.10" stroke="#111" stroke-width="1.2" />
<line x1="630.99" y1="246.50" x2="630.99" y2="249.10" stroke="#111" stroke-width="1.2" />
<line x1="638.49" y1="246.50" x2="638.49" y2="249.10" stroke="#111" stroke-width="1.2" />
<line x1="644.83" y1="246.50" x2="644.83" y2="249.10" stroke="#111" stroke-width="1.2" />
<line x1="650.32" y1="246.50" x2="650.32" y2="249.10" stroke="#111" stroke-width="1.2" />
<line x1="655.17" y1="246.50" x2="655.17" y2="249.10" stroke="#111" stroke-width="1.2" />
<line x1="659.50" y1="246.50" x2="659.50" y2="250.80" stroke="#111" stroke-width="1.2" />
<text x="469.80" y="260.90" font-size="10.0" font-weight="bold" text-anchor="middle" fill="#000" >100</text>
<text x="564.50" y="260.90" font-size="10.0" font-weight="bold" text-anchor="middle" fill="#000" >1000</text>
<text x="659.20" y="260.90" font-size="10.0" font-weight="bold" text-anchor="middle" fill="#000" >10000</text>
<text x="449.00" y="279.40" font-size="14.4" font-weight="bold" text-anchor="start" fill="#000" >Size distribution(nm)</text>
<text transform="translate(353.4,184.6) rotate(-90)" font-size="15.1" font-weight="bold">Intensity(%)</text>
<path d="M379.30,230.80 C392.75,230.80 445.43,231.22 460.00,230.80 C474.57,230.38 464.70,229.60 466.70,228.30 C468.70,227.00 469.95,226.05 472.00,223.00 C474.05,219.95 476.23,214.70 479.00,210.00 C481.77,205.30 485.42,200.52 488.60,194.80 C491.78,189.08 494.93,182.68 498.10,175.70 C501.27,168.72 504.75,159.57 507.60,152.90 C510.45,146.23 513.03,139.27 515.20,135.70 C517.37,132.13 518.80,131.53 520.60,131.50 C522.40,131.47 523.93,132.17 526.00,135.50 C528.07,138.83 530.37,143.33 533.00,151.50 C535.63,159.67 538.78,173.55 541.80,184.50 C544.82,195.45 548.25,209.78 551.10,217.20 C553.95,224.62 556.82,226.73 558.90,229.00 C560.98,231.27 546.83,230.50 563.60,230.80 C580.37,231.10 643.52,230.80 659.50,230.80" fill="none" stroke="#000000" stroke-width="1.7" stroke-linejoin="round" stroke-linecap="round" />
<polyline points="379.30,230.80 483.80,230.80 490.10,224.70 496.50,190.00 502.80,140.00 507.70,102.30 514.20,76.70 520.60,80.60 525.80,109.20 534.00,165.80 538.70,203.20 544.30,228.10 549.60,230.80 659.50,230.80" fill="none" stroke="#d81a1a" stroke-width="1.7" stroke-linejoin="round" stroke-linecap="round" />
<polyline points="379.30,230.80 484.40,230.80 490.00,190.00 494.70,140.00 502.10,76.30 508.50,56.80 513.70,76.30 520.60,130.00 526.20,184.50 532.20,222.40 538.00,230.80 659.50,230.80" fill="none" stroke="#1818d8" stroke-width="1.7" stroke-linejoin="round" stroke-linecap="round" />
<line x1="569.60" y1="104.40" x2="607.30" y2="104.40" stroke="#000000" stroke-width="1.6" />
<text x="611.20" y="110.10" font-size="15.6" font-weight="bold" text-anchor="start" fill="#000" >NLR</text>
<line x1="569.60" y1="125.60" x2="607.30" y2="125.60" stroke="#d02a2a" stroke-width="1.6" />
<text x="611.20" y="131.30" font-size="15.6" font-weight="bold" text-anchor="start" fill="#000" >NSR</text>
<line x1="569.60" y1="146.00" x2="607.30" y2="146.00" stroke="#2a2ac8" stroke-width="1.6" />
<text x="611.20" y="151.70" font-size="15.6" font-weight="bold" text-anchor="start" fill="#000" >NS</text>
<text transform="translate(28.30,307.60) scale(0.8,1.0)" font-size="24.6" font-weight="bold" text-anchor="start" fill="#000" >C</text>
<rect x="29.9" y="313.2" width="316.0" height="220.09999999999997" fill="none" stroke="#000" stroke-width="1.6"/>
<line x1="29.90" y1="533.30" x2="29.90" y2="537.10" stroke="#000" stroke-width="1.3" />
<text x="29.90" y="550.30" font-size="11.2" font-weight="bold" text-anchor="middle" fill="#000" >4000</text>
<line x1="51.84" y1="533.30" x2="51.84" y2="535.70" stroke="#000" stroke-width="1.3" />
<line x1="73.79" y1="533.30" x2="73.79" y2="537.10" stroke="#000" stroke-width="1.3" />
<text x="73.79" y="550.30" font-size="11.2" font-weight="bold" text-anchor="middle" fill="#000" >3500</text>
<line x1="95.73" y1="533.30" x2="95.73" y2="535.70" stroke="#000" stroke-width="1.3" />
<line x1="117.68" y1="533.30" x2="117.68" y2="537.10" stroke="#000" stroke-width="1.3" />
<text x="117.68" y="550.30" font-size="11.2" font-weight="bold" text-anchor="middle" fill="#000" >3000</text>
<line x1="139.62" y1="533.30" x2="139.62" y2="535.70" stroke="#000" stroke-width="1.3" />
<line x1="161.57" y1="533.30" x2="161.57" y2="537.10" stroke="#000" stroke-width="1.3" />
<text x="161.57" y="550.30" font-size="11.2" font-weight="bold" text-anchor="middle" fill="#000" >2500</text>
<line x1="183.51" y1="533.30" x2="183.51" y2="535.70" stroke="#000" stroke-width="1.3" />
<line x1="205.46" y1="533.30" x2="205.46" y2="537.10" stroke="#000" stroke-width="1.3" />
<text x="205.46" y="550.30" font-size="11.2" font-weight="bold" text-anchor="middle" fill="#000" >2000</text>
<line x1="227.40" y1="533.30" x2="227.40" y2="535.70" stroke="#000" stroke-width="1.3" />
<line x1="249.34" y1="533.30" x2="249.34" y2="537.10" stroke="#000" stroke-width="1.3" />
<text x="249.34" y="550.30" font-size="11.2" font-weight="bold" text-anchor="middle" fill="#000" >1500</text>
<line x1="271.29" y1="533.30" x2="271.29" y2="535.70" stroke="#000" stroke-width="1.3" />
<line x1="293.23" y1="533.30" x2="293.23" y2="537.10" stroke="#000" stroke-width="1.3" />
<text x="293.23" y="550.30" font-size="11.2" font-weight="bold" text-anchor="middle" fill="#000" >1000</text>
<line x1="315.18" y1="533.30" x2="315.18" y2="535.70" stroke="#000" stroke-width="1.3" />
<line x1="337.12" y1="533.30" x2="337.12" y2="537.10" stroke="#000" stroke-width="1.3" />
<text x="337.12" y="550.30" font-size="11.2" font-weight="bold" text-anchor="middle" fill="#000" >500</text>
<text x="121.8" y="572.6" font-size="14.6" font-weight="bold">Wavenumber(cm<tspan font-size="11.5" dy="-6.5">-1</tspan><tspan dy="6.5">)</tspan></text>
<text transform="translate(18.2,495.3) rotate(-90)" font-size="15.15" font-weight="bold">Transmittance(%)</text>
<line x1="48.30" y1="337.60" x2="79.40" y2="337.60" stroke="#1c1cd8" stroke-width="1.8" />
<text x="83.30" y="342.40" font-size="15.8" font-weight="bold" text-anchor="start" fill="#000" >MSN-COOH</text>
<line x1="48.30" y1="357.40" x2="79.40" y2="357.40" stroke="#dc1c1c" stroke-width="1.8" />
<text x="83.30" y="362.40" font-size="15.8" font-weight="bold" text-anchor="start" fill="#000" >MSN-NH<tspan dy="4.8">2</tspan></text>
<line x1="48.30" y1="383.20" x2="79.40" y2="383.20" stroke="#000" stroke-width="1.8" />
<text x="83.30" y="388.20" font-size="15.8" font-weight="bold" text-anchor="start" fill="#000" >MSN</text>
<path d="M30.20,390.40 C32.30,390.52 38.72,390.82 42.80,391.10 C46.88,391.38 51.98,391.48 54.70,392.10 C57.42,392.72 57.38,393.23 59.10,394.80 C60.82,396.37 63.02,399.28 65.00,401.50 C66.98,403.72 68.52,406.20 71.00,408.10 C73.48,410.00 77.18,412.40 79.90,412.90 C82.62,413.40 84.83,411.90 87.30,411.10 C89.77,410.30 92.23,409.22 94.70,408.10 C97.17,406.98 99.88,405.25 102.10,404.40 C104.32,403.55 105.53,403.73 108.00,403.00 C110.47,402.27 114.68,400.28 116.90,400.00 C119.12,399.72 120.18,400.63 121.30,401.30 C122.42,401.97 122.63,404.28 123.60,404.00 C124.57,403.72 125.63,400.93 127.10,399.60 C128.57,398.27 129.73,397.13 132.40,396.00 C135.07,394.87 139.23,393.53 143.10,392.80 C146.97,392.07 150.57,391.95 155.60,391.60 C160.63,391.25 167.38,390.92 173.30,390.70 C179.22,390.48 185.17,390.37 191.10,390.30 C197.03,390.23 203.63,390.27 208.90,390.30 C214.17,390.33 219.83,390.12 222.70,390.50 C225.57,390.88 225.18,391.45 226.10,392.60 C227.02,393.75 227.50,396.18 228.20,397.40 C228.90,398.62 229.72,399.78 230.30,399.90 C230.88,400.02 231.13,397.93 231.70,398.10 C232.27,398.27 233.02,399.28 233.70,400.90 C234.38,402.52 235.22,406.18 235.80,407.80 C236.38,409.42 236.62,410.95 237.20,410.60 C237.78,410.25 238.62,407.20 239.30,405.70 C239.98,404.20 240.62,401.82 241.30,401.60 C241.98,401.38 242.82,403.48 243.40,404.40 C243.98,405.32 244.22,408.03 244.80,407.10 C245.38,406.17 246.10,400.98 246.90,398.80 C247.70,396.62 248.68,394.45 249.60,394.00 C250.52,393.55 251.47,395.30 252.40,396.10 C253.33,396.90 254.28,398.12 255.20,398.80 C256.12,399.48 257.10,400.32 257.90,400.20 C258.70,400.08 258.95,398.90 260.00,398.10 C261.05,397.30 262.78,395.48 264.20,395.40 C265.62,395.32 267.52,396.33 268.50,397.60 C269.48,398.87 269.63,401.70 270.10,403.00 C270.57,404.30 270.88,403.88 271.30,405.40 C271.72,406.92 272.08,409.97 272.60,412.10 C273.12,414.23 273.60,416.98 274.40,418.20 C275.20,419.42 276.40,418.80 277.40,419.40 C278.40,420.00 279.28,421.00 280.40,421.80 C281.52,422.60 283.08,423.15 284.10,424.20 C285.12,425.25 285.70,427.90 286.50,428.10 C287.30,428.30 288.20,427.27 288.90,425.40 C289.60,423.53 290.10,419.92 290.70,416.90 C291.30,413.88 291.95,410.37 292.50,407.30 C293.05,404.23 293.37,400.22 294.00,398.50 C294.63,396.78 295.45,397.47 296.30,397.00 C297.15,396.53 298.02,396.37 299.10,395.70 C300.18,395.03 301.57,393.83 302.80,393.00 C304.03,392.17 305.58,390.70 306.50,390.70 C307.42,390.70 307.62,391.55 308.30,393.00 C308.98,394.45 309.82,399.25 310.60,399.40 C311.38,399.55 312.15,395.22 313.00,393.90 C313.85,392.58 314.32,391.82 315.70,391.50 C317.08,391.18 319.43,391.92 321.30,392.00 C323.17,392.08 325.20,392.00 326.90,392.00 C328.60,392.00 330.12,392.15 331.50,392.00 C332.88,391.85 334.12,390.02 335.20,391.10 C336.28,392.18 337.08,396.18 338.00,398.50 C338.92,400.82 339.93,404.68 340.70,405.00 C341.47,405.32 341.98,402.72 342.60,400.40 C343.22,398.08 343.85,392.83 344.40,391.10 C344.95,389.37 345.65,390.18 345.90,390.00" fill="none" stroke="#1c1cd8" stroke-width="2.0" stroke-linejoin="round" stroke-linecap="round" />
<path d="M30.20,432.60 C32.30,432.65 38.60,432.73 42.80,432.90 C47.00,433.07 52.68,433.15 55.40,433.60 C58.12,434.05 57.50,434.17 59.10,435.60 C60.70,437.03 63.02,440.12 65.00,442.20 C66.98,444.28 68.65,446.57 71.00,448.10 C73.35,449.63 76.88,451.02 79.10,451.40 C81.32,451.78 82.45,451.07 84.30,450.40 C86.15,449.73 87.73,448.15 90.20,447.40 C92.67,446.65 95.88,446.52 99.10,445.90 C102.32,445.28 106.28,444.37 109.50,443.70 C112.72,443.03 116.43,442.13 118.40,441.90 C120.37,441.67 120.32,442.00 121.30,442.30 C122.28,442.60 123.30,444.02 124.30,443.70 C125.30,443.38 125.52,441.43 127.30,440.40 C129.08,439.37 131.77,438.38 135.00,437.50 C138.23,436.62 140.32,435.85 146.70,435.10 C153.08,434.35 162.93,433.42 173.30,433.00 C183.67,432.58 199.75,432.65 208.90,432.60 C218.05,432.55 224.30,432.33 228.20,432.70 C232.10,433.07 231.15,433.65 232.30,434.80 C233.45,435.95 234.28,438.45 235.10,439.60 C235.92,440.75 236.50,441.70 237.20,441.70 C237.90,441.70 238.62,440.17 239.30,439.60 C239.98,439.03 240.62,438.30 241.30,438.30 C241.98,438.30 242.58,439.83 243.40,439.60 C244.22,439.37 245.05,437.58 246.20,436.90 C247.35,436.22 248.92,435.85 250.30,435.50 C251.68,435.15 253.12,434.92 254.50,434.80 C255.88,434.68 257.80,434.45 258.60,434.80 C259.40,435.15 259.07,436.90 259.30,436.90 C259.53,436.90 259.07,435.27 260.00,434.80 C260.93,434.33 263.52,434.08 264.90,434.10 C266.28,434.12 267.43,434.53 268.30,434.90 C269.17,435.27 269.50,435.05 270.10,436.30 C270.70,437.55 271.28,439.98 271.90,442.40 C272.52,444.82 273.08,448.58 273.80,450.80 C274.52,453.02 275.30,454.18 276.20,455.70 C277.10,457.22 278.10,458.68 279.20,459.90 C280.30,461.12 281.78,461.98 282.80,463.00 C283.82,464.02 284.58,465.00 285.30,466.00 C286.02,467.00 286.50,469.10 287.10,469.00 C287.70,468.90 288.20,468.02 288.90,465.40 C289.60,462.78 290.50,457.13 291.30,453.30 C292.10,449.47 292.98,444.52 293.70,442.40 C294.42,440.28 294.98,441.00 295.60,440.60 C296.22,440.20 296.50,440.72 297.40,440.00 C298.30,439.28 299.80,437.52 301.00,436.30 C302.20,435.08 303.68,433.43 304.60,432.70 C305.52,431.97 305.88,431.58 306.50,431.90 C307.12,432.22 307.62,433.43 308.30,434.60 C308.98,435.77 309.82,438.73 310.60,438.90 C311.38,439.07 311.83,436.47 313.00,435.60 C314.17,434.73 315.28,434.02 317.60,433.70 C319.92,433.38 324.12,433.85 326.90,433.70 C329.68,433.55 332.62,431.87 334.30,432.80 C335.98,433.73 336.02,437.15 337.00,439.30 C337.98,441.45 339.12,446.02 340.20,445.70 C341.28,445.38 342.63,439.55 343.50,437.40 C344.37,435.25 345.08,433.57 345.40,432.80" fill="none" stroke="#dc1c1c" stroke-width="2.0" stroke-linejoin="round" stroke-linecap="round" />
<path d="M30.20,473.30 C31.62,473.45 36.10,473.60 38.70,474.20 C41.30,474.80 43.43,475.87 45.80,476.90 C48.17,477.93 51.13,478.97 52.90,480.40 C54.67,481.83 55.37,483.30 56.40,485.50 C57.43,487.70 57.90,491.05 59.10,493.60 C60.30,496.15 61.97,498.72 63.60,500.80 C65.23,502.88 66.83,504.70 68.90,506.10 C70.97,507.50 73.93,508.67 76.00,509.20 C78.07,509.73 79.23,509.70 81.30,509.30 C83.37,508.90 85.73,507.85 88.40,506.80 C91.07,505.75 94.33,505.03 97.30,503.00 C100.27,500.97 102.93,497.50 106.20,494.60 C109.47,491.70 113.33,488.32 116.90,485.60 C120.47,482.88 124.05,480.20 127.60,478.30 C131.15,476.40 134.95,475.10 138.20,474.20 C141.45,473.30 140.87,473.07 147.10,472.90 C153.33,472.73 164.93,473.15 175.60,473.20 C186.27,473.25 203.10,473.25 211.10,473.20 C219.10,473.15 220.63,472.65 223.60,472.90 C226.57,473.15 227.43,473.52 228.90,474.70 C230.37,475.88 231.37,477.78 232.40,480.00 C233.43,482.22 234.35,485.93 235.10,488.00 C235.85,490.07 236.30,492.40 236.90,492.40 C237.50,492.40 238.12,490.22 238.70,488.00 C239.28,485.78 239.52,481.42 240.40,479.10 C241.28,476.78 242.63,474.92 244.00,474.10 C245.37,473.28 246.97,473.97 248.60,474.20 C250.23,474.43 252.20,475.00 253.80,475.50 C255.40,476.00 257.18,476.35 258.20,477.20 C259.22,478.05 259.42,480.23 259.90,480.60 C260.38,480.97 260.38,479.10 261.10,479.40 C261.82,479.70 263.10,480.90 264.20,482.40 C265.30,483.90 266.68,485.67 267.70,488.40 C268.72,491.13 269.58,495.48 270.30,498.80 C271.02,502.12 271.28,506.43 272.00,508.30 C272.72,510.17 273.30,509.57 274.60,510.00 C275.90,510.43 278.07,510.47 279.80,510.90 C281.53,511.33 283.57,512.45 285.00,512.60 C286.43,512.75 287.48,512.95 288.40,511.80 C289.32,510.65 289.78,509.88 290.50,505.70 C291.22,501.52 292.12,489.92 292.70,486.70 C293.28,483.48 293.50,484.67 294.00,486.40 C294.50,488.13 295.05,495.62 295.70,497.10 C296.35,498.58 296.95,497.62 297.90,495.30 C298.85,492.98 300.23,486.80 301.40,483.20 C302.57,479.60 304.03,475.28 304.90,473.70 C305.77,472.12 305.88,472.25 306.60,473.70 C307.32,475.15 308.48,480.23 309.20,482.40 C309.92,484.57 310.33,487.13 310.90,486.70 C311.47,486.27 312.02,481.67 312.60,479.80 C313.18,477.93 313.10,476.65 314.40,475.50 C315.70,474.35 318.53,472.90 320.40,472.90 C322.27,472.90 323.87,474.65 325.60,475.50 C327.33,476.35 329.35,478.00 330.80,478.00 C332.25,478.00 333.43,475.35 334.30,475.50 C335.17,475.65 335.43,475.60 336.00,478.90 C336.57,482.20 337.13,490.97 337.70,495.30 C338.27,499.63 338.68,504.60 339.40,504.90 C340.12,505.20 341.27,501.00 342.00,497.10 C342.73,493.20 343.27,485.53 343.80,481.50 C344.33,477.47 344.97,474.33 345.20,472.90" fill="none" stroke="#000" stroke-width="2.0" stroke-linejoin="round" stroke-linecap="round" />
<line x1="122.70" y1="404.90" x2="128.00" y2="413.80" stroke="#1a1a1a" stroke-width="0.95" />
<line x1="128.00" y1="413.80" x2="127.67" y2="410.01" stroke="#1a1a1a" stroke-width="0.95" />
<line x1="128.00" y1="413.80" x2="124.83" y2="411.71" stroke="#1a1a1a" stroke-width="0.95" />
<line x1="228.20" y1="400.90" x2="218.80" y2="410.30" stroke="#1a1a1a" stroke-width="0.95" />
<line x1="218.80" y1="410.30" x2="222.39" y2="409.05" stroke="#1a1a1a" stroke-width="0.95" />
<line x1="218.80" y1="410.30" x2="220.05" y2="406.71" stroke="#1a1a1a" stroke-width="0.95" />
<line x1="243.70" y1="404.40" x2="249.60" y2="417.10" stroke="#1a1a1a" stroke-width="0.95" />
<line x1="249.60" y1="417.10" x2="249.66" y2="413.30" stroke="#1a1a1a" stroke-width="0.95" />
<line x1="249.60" y1="417.10" x2="246.66" y2="414.69" stroke="#1a1a1a" stroke-width="0.95" />
<line x1="244.50" y1="438.30" x2="247.30" y2="448.60" stroke="#1a1a1a" stroke-width="0.95" />
<line x1="247.30" y1="448.60" x2="248.00" y2="444.86" stroke="#1a1a1a" stroke-width="0.95" />
<line x1="247.30" y1="448.60" x2="244.81" y2="445.73" stroke="#1a1a1a" stroke-width="0.95" />
<line x1="73.90" y1="508.00" x2="79.20" y2="489.80" stroke="#1a1a1a" stroke-width="0.95" />
<line x1="79.20" y1="489.80" x2="76.66" y2="492.62" stroke="#1a1a1a" stroke-width="0.95" />
<line x1="79.20" y1="489.80" x2="79.83" y2="493.55" stroke="#1a1a1a" stroke-width="0.95" />
<text transform="translate(118.80,424.20) scale(1.04,1.0)" font-size="11.6" font-weight="bold" text-anchor="start" fill="#000" fill="#111">2924</text>
<text transform="translate(200.90,421.30) scale(1.1,1.0)" font-size="11.6" font-weight="bold" text-anchor="start" fill="#000" fill="#111">1711</text>
<text x="235.10" y="429.10" font-size="11.6" font-weight="bold" text-anchor="start" fill="#000" fill="#111">1566</text>
<text transform="translate(235.60,459.10) scale(1.02,1.0)" font-size="11.6" font-weight="bold" text-anchor="start" fill="#000" fill="#111">1560</text>
<text transform="translate(69.30,489.40) scale(1.04,1.0)" font-size="11.6" font-weight="bold" text-anchor="start" fill="#000" fill="#111">3440</text>
<text x="366.80" y="311.60" font-size="23" font-weight="bold" text-anchor="start" fill="#000" >D</text>
<line x1="407.80" y1="350.20" x2="407.80" y2="517.60" stroke="#000" stroke-width="1.6" />
<line x1="407.80" y1="516.90" x2="402.80" y2="516.90" stroke="#000" stroke-width="1.5" />
<text x="400.40" y="520.90" font-size="11.5" font-weight="bold" text-anchor="end" fill="#000" >-40</text>
<line x1="407.80" y1="475.40" x2="402.80" y2="475.40" stroke="#000" stroke-width="1.5" />
<text x="400.40" y="479.40" font-size="11.5" font-weight="bold" text-anchor="end" fill="#000" >-20</text>
<line x1="407.80" y1="433.90" x2="402.80" y2="433.90" stroke="#000" stroke-width="1.5" />
<text x="400.40" y="437.90" font-size="11.5" font-weight="bold" text-anchor="end" fill="#000" >0</text>
<line x1="407.80" y1="392.40" x2="402.80" y2="392.40" stroke="#000" stroke-width="1.5" />
<text x="400.40" y="396.40" font-size="11.5" font-weight="bold" text-anchor="end" fill="#000" >20</text>
<line x1="407.80" y1="350.90" x2="402.80" y2="350.90" stroke="#000" stroke-width="1.5" />
<text x="400.40" y="354.90" font-size="11.5" font-weight="bold" text-anchor="end" fill="#000" >40</text>
<text transform="translate(375.5,491.3) rotate(-90)" font-size="13.75" font-weight="bold">zeta potential(mv)</text>
<defs><pattern id="chk" width="3.33" height="3.33" patternUnits="userSpaceOnUse"><rect width="3.33" height="3.33" fill="#fff"/><rect width="1.67" height="1.67" fill="#1e1e1e"/><rect x="1.67" y="1.67" width="1.67" height="1.67" fill="#1e1e1e"/></pattern></defs>
<rect x="428.3" y="433.90" width="42.40" height="43.16" fill="url(#chk)" stroke="#000" stroke-width="1"/>
<line x1="449.50" y1="477.06" x2="449.50" y2="479.96" stroke="#000" stroke-width="1.2" />
<line x1="439.50" y1="479.96" x2="459.50" y2="479.96" stroke="#000" stroke-width="2.0" />
<rect x="511.4" y="374.14" width="42.30" height="59.76" fill="url(#chk)" stroke="#000" stroke-width="1"/>
<line x1="532.55" y1="374.14" x2="532.55" y2="372.06" stroke="#000" stroke-width="1.2" />
<line x1="522.55" y1="372.06" x2="542.55" y2="372.06" stroke="#000" stroke-width="2.0" />
<rect x="594.4" y="433.90" width="42.60" height="68.48" fill="url(#chk)" stroke="#000" stroke-width="1"/>
<line x1="615.70" y1="502.38" x2="615.70" y2="506.11" stroke="#000" stroke-width="1.2" />
<line x1="605.70" y1="506.11" x2="625.70" y2="506.11" stroke="#000" stroke-width="2.0" />
<line x1="407.80" y1="433.90" x2="657.20" y2="433.90" stroke="#000" stroke-width="1.8" />
<text x="435.00" y="428.00" font-size="13.7" font-weight="bold" text-anchor="start" fill="#000" >MSN</text>
<text x="504.20" y="450.30" font-size="13.7" font-weight="bold" text-anchor="start" fill="#000" >MSN-NH<tspan font-size="9.8" dy="2.5">2</tspan></text>
<text x="582.40" y="428.80" font-size="13.75" font-weight="bold" text-anchor="start" fill="#000" >MSN-COOH</text>
</svg>
</body></html>
